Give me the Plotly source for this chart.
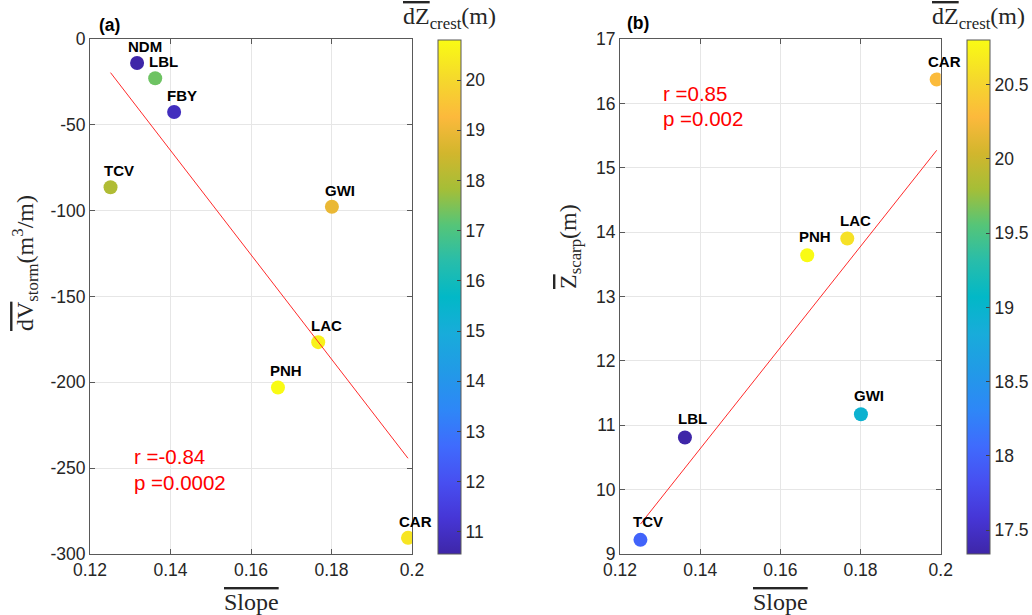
import numpy as np
import plotly.graph_objects as go

# ---------------- data ----------------
sites_a = ["NDM", "LBL", "FBY", "TCV", "GWI", "LAC", "PNH", "CAR"]
slope_a = [0.1317, 0.1362, 0.1409, 0.1251, 0.1801, 0.1767, 0.1667, 0.1990]
dV_a = [-14.0, -22.9, -42.5, -86.4, -97.7, -176.6, -203.0, -290.6]
dZ_a = [10.56, 17.34, 10.9, 18.0, 18.95, 20.6, 20.8, 20.3]

sites_b = ["CAR", "LAC", "PNH", "GWI", "LBL", "TCV"]
slope_b = [0.1990, 0.1767, 0.1667, 0.1801, 0.1362, 0.1251]
Zs_b = [16.37, 13.90, 13.64, 11.17, 10.81, 9.22]
dZ_b = [20.3, 20.6, 20.8, 18.95, 17.34, 18.0]

r_a, p_a = "-0.84", "0.0002"
r_b, p_b = "0.85", "0.002"

x_ticks = [0.12, 0.14, 0.16, 0.18, 0.2]
ya_ticks = [0, -50, -100, -150, -200, -250, -300]
yb_ticks = [9, 10, 11, 12, 13, 14, 15, 16, 17]
cba_ticks = [11, 12, 13, 14, 15, 16, 17, 18, 19, 20]
cbb_ticks = [17.5, 18, 18.5, 19, 19.5, 20, 20.5]

# parula-like colormap
parula = [
    [0.00, "rgb(62,38,168)"],
    [0.07, "rgb(70,54,214)"],
    [0.14, "rgb(71,79,241)"],
    [0.21, "rgb(63,107,253)"],
    [0.28, "rgb(46,135,247)"],
    [0.36, "rgb(33,155,230)"],
    [0.43, "rgb(24,172,218)"],
    [0.50, "rgb(2,184,199)"],
    [0.57, "rgb(40,189,170)"],
    [0.64, "rgb(85,197,120)"],
    [0.71, "rgb(165,190,55)"],
    [0.78, "rgb(210,182,45)"],
    [0.85, "rgb(252,185,60)"],
    [0.92, "rgb(245,215,45)"],
    [1.00, "rgb(249,251,20)"],
]

W, H = 1032, 615
def px(x): return x / W
def py(y): return (H - y) / H
def lab(v): return "%g" % v

AX_COL = "#595959"
TXT_COL = "#262626"
TICK_FONT = dict(family="Liberation Sans, Arial", size=17.5, color=TXT_COL)
SERIF = "Liberation Serif, Times New Roman, serif"

fig = go.Figure()

# markers
fig.add_trace(go.Scatter(
    x=slope_a, y=dV_a, mode="markers", xaxis="x", yaxis="y",
    marker=dict(size=14, color=dZ_a, coloraxis="coloraxis", line=dict(width=0)),
    showlegend=False))
fig.add_trace(go.Scatter(
    x=slope_b, y=Zs_b, mode="markers", xaxis="x2", yaxis="y2",
    marker=dict(size=14, color=dZ_b, coloraxis="coloraxis2", line=dict(width=0)),
    showlegend=False))

# regression lines
for xs, ys, xa, ya in [(slope_a, dV_a, "x", "y"), (slope_b, Zs_b, "x2", "y2")]:
    b, a = np.polyfit(xs, ys, 1)
    xl = np.array([min(xs), max(xs)])
    fig.add_trace(go.Scatter(x=xl, y=a + b * xl, mode="lines", xaxis=xa, yaxis=ya,
                             line=dict(color="#ff2a2a", width=1), showlegend=False))

ann = []
lab_font = dict(family="Liberation Sans, Arial", size=15, color="black")
for s, x, y in zip(sites_a, slope_a, dV_a):
    ann.append(dict(x=x, y=y, xref="x", yref="y", text="<b>%s</b>" % s, showarrow=False,
                    xshift=8, yshift=16.5, font=lab_font))
for s, x, y in zip(sites_b, slope_b, Zs_b):
    ann.append(dict(x=x, y=y, xref="x2", yref="y2", text="<b>%s</b>" % s, showarrow=False,
                    xshift=8, yshift=18.5, font=lab_font))

stat_font = dict(family="Liberation Sans, Arial", size=20.5, color="red")
ann += [
    dict(x=0.1304, y=-243.4, xref="x", yref="y", text="r =" + r_a, showarrow=False, xanchor="left", yanchor="middle", font=stat_font),
    dict(x=0.1304, y=-258.4, xref="x", yref="y", text="p =" + p_a, showarrow=False, xanchor="left", yanchor="middle", font=stat_font),
    dict(x=0.1302, y=16.16, xref="x2", yref="y2", text="r =" + r_b, showarrow=False, xanchor="left", yanchor="middle", font=stat_font),
    dict(x=0.1302, y=15.76, xref="x2", yref="y2", text="p =" + p_b, showarrow=False, xanchor="left", yanchor="middle", font=stat_font),
]

OV = '<span style="text-decoration:overline">%s</span>'
serif_font = dict(family=SERIF, size=24, color=TXT_COL)
ann += [
    dict(x=px(97), y=py(25), xref="paper", yref="paper", text="<b>(a)</b>", showarrow=False, xanchor="left", yanchor="middle",
         font=dict(family="Liberation Sans, Arial", size=17.5, color="black")),
    dict(x=px(625), y=py(23.5), xref="paper", yref="paper", text="<b>(b)</b>", showarrow=False, xanchor="left", yanchor="middle",
         font=dict(family="Liberation Sans, Arial", size=17.5, color="black")),
    dict(x=px(251), y=py(602), xref="paper", yref="paper", text=OV % "Slope", showarrow=False, xanchor="center", yanchor="middle", font=serif_font),
    dict(x=px(780), y=py(602), xref="paper", yref="paper", text=OV % "Slope", showarrow=False, xanchor="center", yanchor="middle", font=serif_font),
    dict(x=px(25), y=py(263), xref="paper", yref="paper", text=(OV % "dV") + "<sub>storm</sub>(m<sup>3</sup>/m)", showarrow=False,
         textangle=-90, xanchor="center", yanchor="middle", font=serif_font),
    dict(x=px(570), y=py(247), xref="paper", yref="paper", text=(OV % "Z") + "<sub>scarp</sub>(m)", showarrow=False,
         textangle=-90, xanchor="center", yanchor="middle", font=serif_font),
    dict(x=px(449), y=py(18), xref="paper", yref="paper", text=(OV % "dZ") + "<sub>crest</sub>(m)", showarrow=False,
         xanchor="center", yanchor="middle", font=serif_font),
    dict(x=px(978), y=py(18), xref="paper", yref="paper", text=(OV % "dZ") + "<sub>crest</sub>(m)", showarrow=False,
         xanchor="center", yanchor="middle", font=serif_font),
]

axis_common = dict(showline=True, linecolor=AX_COL, linewidth=1, mirror="ticks", ticks="inside", ticklen=5,
                   tickcolor=AX_COL, showgrid=True, gridcolor="#e6e6e6", gridwidth=1, zeroline=False,
                   tickfont=TICK_FONT, automargin=False)

ydom = [py(554), py(39)]
cb_common = dict(thickness=23, thicknessmode="pixels", lenmode="fraction", len=(554 - 40) / H,
                 y=py(297), yanchor="middle", xanchor="left", xpad=0, ypad=0,
                 outlinewidth=1, outlinecolor=AX_COL, ticks="inside", ticklen=4, tickcolor="#404040",
                 tickfont=TICK_FONT)

fig.update_layout(
    width=W, height=H, margin=dict(l=0, r=0, t=0, b=0, pad=0, autoexpand=False),
    paper_bgcolor="white", plot_bgcolor="white",
    xaxis=dict(domain=[px(90), px(412)], range=[0.12, 0.2], tickvals=x_ticks, ticktext=[lab(v) for v in x_ticks],
               anchor="y", **axis_common),
    yaxis=dict(domain=ydom, range=[-300, 0], tickvals=ya_ticks, ticktext=[lab(v) for v in ya_ticks],
               anchor="x", **axis_common),
    xaxis2=dict(domain=[px(620), px(940.7)], range=[0.12, 0.2], tickvals=x_ticks, ticktext=[lab(v) for v in x_ticks],
                anchor="y2", **axis_common),
    yaxis2=dict(domain=ydom, range=[9, 17], tickvals=yb_ticks, ticktext=[lab(v) for v in yb_ticks],
                anchor="x2", **axis_common),
    coloraxis=dict(colorscale=parula, cmin=min(dZ_a), cmax=max(dZ_a),
                   colorbar=dict(x=px(437.7), tickvals=cba_ticks, ticktext=[lab(v) for v in cba_ticks], **cb_common)),
    coloraxis2=dict(colorscale=parula, cmin=min(dZ_b), cmax=max(dZ_b),
                    colorbar=dict(x=px(966.7), tickvals=cbb_ticks, ticktext=[lab(v) for v in cbb_ticks], **cb_common)),
    annotations=ann,
)

fig.write_html("out.html")
